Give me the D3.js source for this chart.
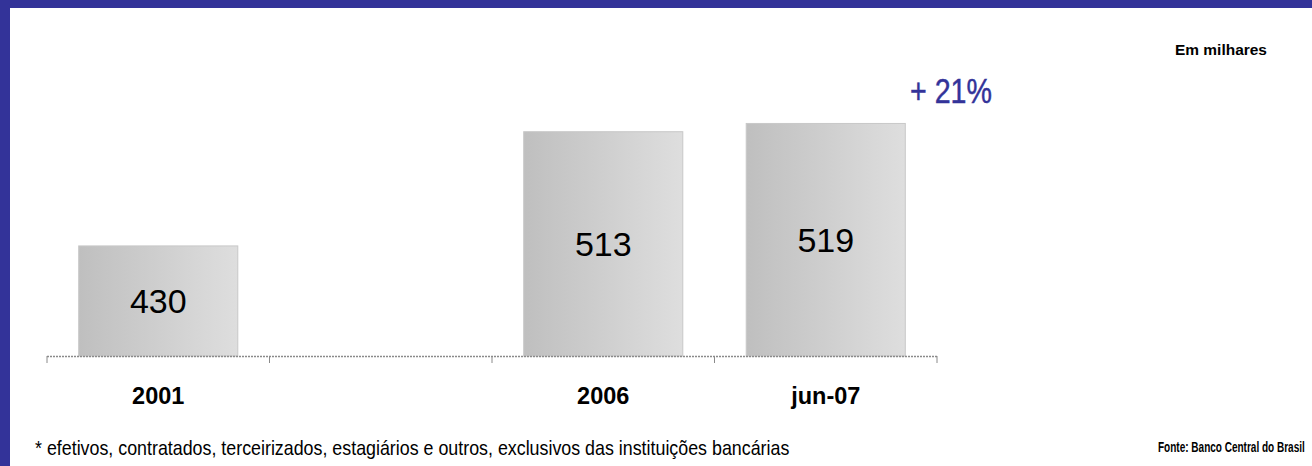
<!DOCTYPE html>
<html>
<head>
<meta charset="utf-8">
<script src="https://cdn.jsdelivr.net/npm/d3@7"></script>
<style>
html,body{margin:0;padding:0;background:#fff;}
svg{display:block;}
</style>
</head>
<body>
<svg id="chart" width="1312" height="466"></svg>
<script>
const categories = ["2001", "", "2006", "jun-07"];
const values = [430, null, 513, 519];
const valueLabels = ["430", "", "513", "519"];
const growthLabel = "+ 21%";
const unitLabel = "Em milhares";
const footnote = "* efetivos, contratados, terceirizados, estagiários e outros, exclusivos das instituições bancárias";
const source = "Fonte: Banco Central do Brasil";

const svg = d3.select("#chart");
const W = 1312, H = 466;
const sans = "'Liberation Sans', Arial, sans-serif";
const blue = "#333399";

// frame
svg.append("rect").attr("x",0).attr("y",0).attr("width",W).attr("height",8).attr("fill",blue);
svg.append("rect").attr("x",0).attr("y",0).attr("width",10).attr("height",H).attr("fill",blue);

const defs = svg.append("defs");
const grad = defs.append("linearGradient").attr("id","barGrad").attr("x1","0%").attr("x2","100%").attr("y1","0%").attr("y2","0%");
grad.append("stop").attr("offset","0%").attr("stop-color","#bfbfbf");
grad.append("stop").attr("offset","100%").attr("stop-color","#dedede");

const x = d3.scaleBand().domain(d3.range(categories.length)).range([47, 937]).paddingInner(0.285).paddingOuter(0.1425);
const y = d3.scaleLinear().domain([350, 600]).range([356, 12]);

const data = categories.map((c,i)=>({c, v: values[i], label: valueLabels[i], i}));

svg.append("g").selectAll("rect").data(data.filter(d=>d.v!=null)).join("rect")
  .attr("x", d=>x(d.i)).attr("width", x.bandwidth())
  .attr("y", d=>y(d.v)).attr("height", d=>y(350)-y(d.v))
  .attr("fill","url(#barGrad)").attr("stroke","#c8c8c8").attr("stroke-width",1);

svg.append("g").selectAll("text").data(data.filter(d=>d.v!=null)).join("text")
  .attr("x", d=>x(d.i)+x.bandwidth()/2)
  .attr("y", d=>(y(d.v)+y(350))/2 + 12.5)
  .attr("text-anchor","middle").attr("font-family",sans).attr("font-size",34).attr("fill","#000")
  .text(d=>d.label);

// axis
const step = (937-47)/categories.length;
const tickPos = d3.range(categories.length+1).map(i=>47+i*step);
const ax = svg.append("g");
ax.append("line").attr("x1",47).attr("x2",937).attr("y1",356.5).attr("y2",356.5)
  .attr("stroke","#8a8a8a").attr("stroke-width",1.5).attr("stroke-dasharray","2,1");
ax.selectAll("line.t").data(tickPos).join("line").attr("class","t")
  .attr("x1",d=>d).attr("x2",d=>d).attr("y1",356).attr("y2",363)
  .attr("stroke","#8a8a8a").attr("stroke-width",1);

svg.append("g").selectAll("text").data(data).join("text")
  .attr("x", d=>x(d.i)+x.bandwidth()/2).attr("y",404)
  .attr("text-anchor","middle").attr("font-family",sans).attr("font-weight","bold").attr("font-size",23.5).attr("fill","#000")
  .text(d=>d.c);

// condensed text helper: scales the text horizontally to a target width
function condensed(tx, ty, width, txt, attrs) {
  const g = svg.append("g");
  const t = g.append("text").attr("x",0).attr("y",0).attr("font-family",sans).text(txt);
  Object.entries(attrs).forEach(([k,v])=>t.attr(k,v));
  const w = t.node().getComputedTextLength();
  g.attr("transform", `translate(${tx},${ty}) scale(${width/w},1)`);
  return t;
}

condensed(910, 103, 82, growthLabel, {"font-size":36, "fill":blue, "stroke":blue, "stroke-width":0.45});
condensed(1175, 55, 92, unitLabel, {"font-size":14.5, "font-weight":"bold", "fill":"#000"});
condensed(35, 455, 755, footnote, {"font-size":20, "fill":"#000"});
condensed(1158, 452, 147, source, {"font-size":14, "font-weight":"bold", "fill":"#000"});
</script>
</body>
</html>
